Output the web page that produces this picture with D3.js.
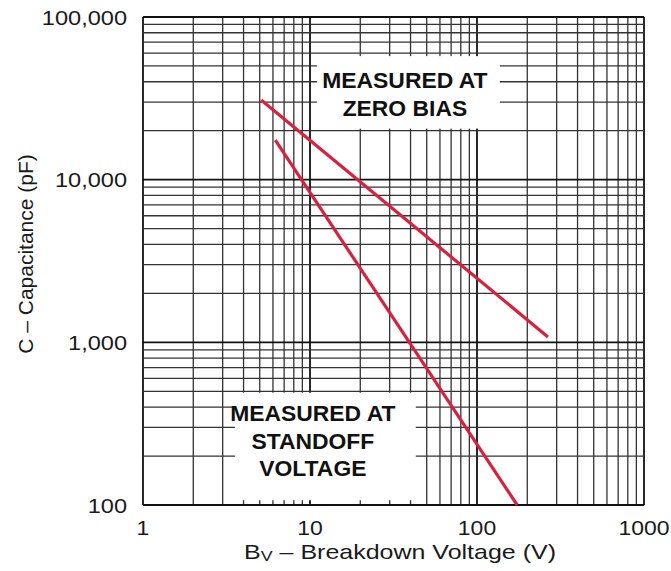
<!DOCTYPE html>
<html>
<head>
<meta charset="utf-8">
<script src="https://cdn.jsdelivr.net/npm/d3@7"></script>
<style>
  body { margin: 0; background: #fff; }
  text { font-family: "Liberation Sans", Arial, sans-serif; fill: #1a1a1a; }
  .tick-label { font-size: 20.5px; }
  .axis-title { font-size: 21px; }
  .note { font-size: 22px; font-weight: bold; fill: #111; }
</style>
</head>
<body>
<div id="chart"></div>
<script>
// Axis ticks
var xTicks = [1, 10, 100, 1000];
var xTickLabels = ["1", "10", "100", "1000"];
var yTicks = [100, 1000, 10000, 100000];
var yTickLabels = ["100", "1,000", "10,000", "100,000"];

// Curves (breakdown voltage V, capacitance pF)
var zeroBiasV = [5.1, 266];
var zeroBiasC = [30900, 1080];
var standoffV = [6.2, 174];
var standoffC = [17500, 100];

var width = 671, height = 571;

var svg = d3.select("#chart").append("svg")
    .attr("width", width)
    .attr("height", height);

var x = d3.scaleLog().domain([1, 1000]).range([143, 644]);
var y = d3.scaleLog().domain([100, 100000]).range([505, 17]);

// the scanned chart is a little wider than tall, so text is stretched sideways
function placeText(sel, px, py, sx) {
    sel.attr("transform", "translate(" + px + "," + py + ") scale(" + sx + ",1)");
}

// Grid values: 1..9 per decade
function gridValues(lo, hi) {
    var vals = [];
    for (var d = lo; d < hi; d *= 10) {
        for (var k = 1; k < 10; k++) vals.push(k * d);
    }
    vals.push(hi);
    return vals;
}
var xGrid = gridValues(1, 1000);
var yGrid = gridValues(100, 100000);

function isDecade(v) {
    var l = Math.log10(v);
    return Math.abs(l - Math.round(l)) < 1e-9;
}

var grid = svg.append("g");

grid.selectAll(".vline")
    .data(xGrid)
    .enter().append("line")
    .attr("x1", function (d) { return x(d); })
    .attr("x2", function (d) { return x(d); })
    .attr("y1", y(100000))
    .attr("y2", y(100))
    .attr("stroke", function (d) { return isDecade(d) ? "#111" : "#333"; })
    .attr("stroke-width", function (d) { return isDecade(d) ? 1.8 : 1.3; });

grid.selectAll(".hline")
    .data(yGrid)
    .enter().append("line")
    .attr("y1", function (d) { return y(d); })
    .attr("y2", function (d) { return y(d); })
    .attr("x1", x(1))
    .attr("x2", x(1000))
    .attr("stroke", function (d) { return isDecade(d) ? "#111" : "#333"; })
    .attr("stroke-width", function (d) { return isDecade(d) ? 1.8 : 1.3; });

// White boxes behind the notes
var notes = [
    { lines: ["MEASURED AT", "ZERO BIAS"], x0: 11, x1: 137, y0: 57500, y1: 20600, cx: 37, base: 88 },
    { lines: ["MEASURED AT", "STANDOFF", "VOLTAGE"], x0: 3.55, x1: 43, y0: 490, y1: 107, cx: 10.4, base: 421 }
];

svg.selectAll(".notebox")
    .data(notes)
    .enter().append("rect")
    .attr("x", function (d) { return x(d.x0); })
    .attr("y", function (d) { return y(d.y0); })
    .attr("width", function (d) { return x(d.x1) - x(d.x0); })
    .attr("height", function (d) { return y(d.y1) - y(d.y0); })
    .attr("fill", "#fff");

// Curves
var line = d3.line()
    .x(function (d) { return x(d[0]); })
    .y(function (d) { return y(d[1]); });

[[zeroBiasV, zeroBiasC], [standoffV, standoffC]].forEach(function (s) {
    svg.append("path")
        .datum(d3.zip(s[0], s[1]))
        .attr("d", line)
        .attr("fill", "none")
        .attr("stroke", "#d8203f")
        .attr("stroke-width", 3.2);
});

// Note text
notes.forEach(function (n) {
    n.lines.forEach(function (s, i) {
        svg.append("text")
            .attr("class", "note")
            .attr("text-anchor", "middle")
            .call(placeText, x(n.cx), n.base + i * 27.5, 1.04)
            .text(s);
    });
});

// Tick labels
svg.selectAll(".ylab")
    .data(yTicks)
    .enter().append("text")
    .attr("class", "tick-label")
    .attr("text-anchor", "end")
    .each(function (d) { placeText(d3.select(this), 127, y(d) + 7.5, 1.15); })
    .text(function (d, i) { return yTickLabels[i]; });

svg.selectAll(".xlab")
    .data(xTicks)
    .enter().append("text")
    .attr("class", "tick-label")
    .attr("text-anchor", "middle")
    .each(function (d) { placeText(d3.select(this), x(d), 535, 1.12); })
    .text(function (d, i) { return xTickLabels[i]; });

// Axis titles
var xt = svg.append("text")
    .attr("class", "axis-title")
    .attr("text-anchor", "middle")
    .call(placeText, 400, 559, 1.19);
xt.append("tspan").text("B");
xt.append("tspan").attr("font-size", "15px").attr("dy", 2).text("V");
xt.append("tspan").attr("dy", -2).text(" \u2013 Breakdown Voltage (V)");

svg.append("text")
    .attr("class", "axis-title")
    .attr("transform", "translate(33,254) rotate(-90)")
    .attr("text-anchor", "middle")
    .text("C \u2013 Capacitance (pF)");
</script>
</body>
</html>
